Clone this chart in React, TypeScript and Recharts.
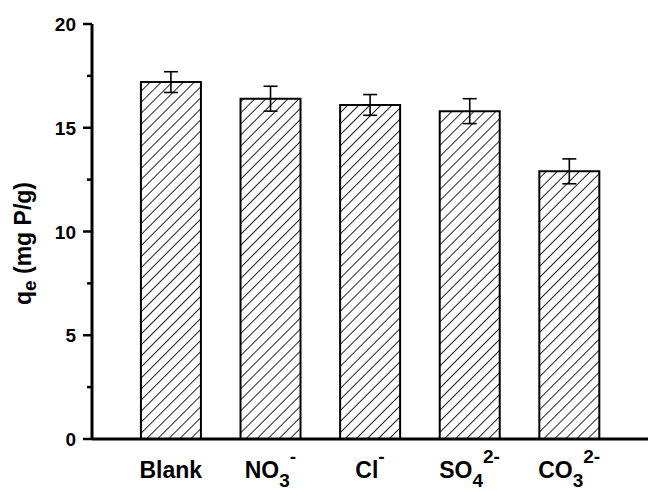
import React from 'react';
import { BarChart, Bar, XAxis, YAxis, ErrorBar } from 'recharts';

// adsorption capacity for each coexisting anion
const categories = ['Blank', 'NO3-', 'Cl-', 'SO42-', 'CO32-'];
const qe = [17.2, 16.4, 16.1, 15.8, 12.9];
const qeErr = [0.5, 0.6, 0.5, 0.6, 0.6];

// tick label pieces: base text, subscript, superscript
const tickBase = ['Blank', 'NO', 'Cl', 'SO', 'CO'];
const tickSub = ['', '3', '', '4', '3'];
const tickSup = ['', '-', '-', '2-', '2-'];

const yTicks = [0, 2.5, 5, 7.5, 10, 12.5, 15, 17.5, 20];

const data = categories.map((name, i) => ({ name, qe: qe[i], err: qeErr[i] }));

const FONT = 'Arial, "Liberation Sans", sans-serif';

const XTick = ({ x, y, payload }: any) => {
  const i = categories.indexOf(payload.value);
  const sub = tickSub[i];
  const sup = tickSup[i];
  // relative shifts keep the whole label in one text chunk so it centres as a unit
  return (
    <text x={x} y={y + 39} textAnchor="middle" fontFamily={FONT} fontWeight="bold" fontSize={23} fill="#000">
      <tspan>{tickBase[i]}</tspan>
      {sub && <tspan dy={9} fontSize={19}>{sub}</tspan>}
      {sup && <tspan dy={sub ? -24 : -15} fontSize={19}>{sup}</tspan>}
    </text>
  );
};

const YTick = ({ x, y, payload }: any) => {
  const major = payload.value % 5 === 0;
  return (
    <g>
      <line x1={x - (major ? 9 : 5)} y1={y} x2={x} y2={y} stroke="#000" strokeWidth={2.5} />
      {major && (
        <text x={x - 16} y={y} dy={7} textAnchor="end" fontFamily={FONT} fontWeight="bold" fontSize={19} fill="#000">
          {payload.value}
        </text>
      )}
    </g>
  );
};

const YLabel = ({ viewBox }: any) => {
  const cx = 31;
  const cy = viewBox.y + viewBox.height / 2 + 12;
  return (
    <text x={cx} y={cy} transform={`rotate(-90, ${cx}, ${cy})`} textAnchor="middle" fontFamily={FONT} fontWeight="bold" fontSize={23} fill="#000">
      <tspan>q</tspan>
      <tspan dy={5} fontSize={19}>e</tspan>
      <tspan dy={-5}> (mg P/g)</tspan>
    </text>
  );
};

export default function App() {
  return (
    <div style={{ position: 'absolute', left: 0, top: 0, background: '#fff' }}>
      <svg width={0} height={0} style={{ position: 'absolute' }}>
        <defs>
          <pattern id="hatch" width={7.8} height={7.8} patternUnits="userSpaceOnUse" patternTransform="rotate(45)">
            <line x1={0} y1={0} x2={0} y2={7.8} stroke="#000" strokeWidth={1.7} />
          </pattern>
        </defs>
      </svg>
      <BarChart width={649} height={491} data={data} margin={{ top: 24, right: 1, bottom: 0, left: 0 }} barCategoryGap="20%">
        <XAxis
          dataKey="name"
          height={52}
          padding={{ left: 29, right: 29 }}
          axisLine={{ stroke: '#000', strokeWidth: 3 }}
          tickLine={false}
          tickSize={0}
          tickMargin={0}
          tick={<XTick />}
          interval={0}
        />
        <XAxis xAxisId="top" orientation="top" dataKey="name" height={0} tick={false} tickLine={false} axisLine={{ stroke: '#111', strokeWidth: 2.5 }} />
        <YAxis
          width={92}
          domain={[0, 20]}
          ticks={yTicks}
          interval={0}
          axisLine={{ stroke: '#000', strokeWidth: 3 }}
          tickLine={false}
          tickSize={0}
          tickMargin={0}
          tick={<YTick />}
          label={<YLabel />}
        />
        <YAxis yAxisId="right" orientation="right" width={0} tick={false} tickLine={false} axisLine={{ stroke: '#555', strokeWidth: 1.5 }} />
        <Bar dataKey="qe" fill="url(#hatch)" stroke="#000" strokeWidth={2} isAnimationActive={false}>
          <ErrorBar dataKey="err" width={7} stroke="#000" strokeWidth={1.6} />
        </Bar>
      </BarChart>
    </div>
  );
}
